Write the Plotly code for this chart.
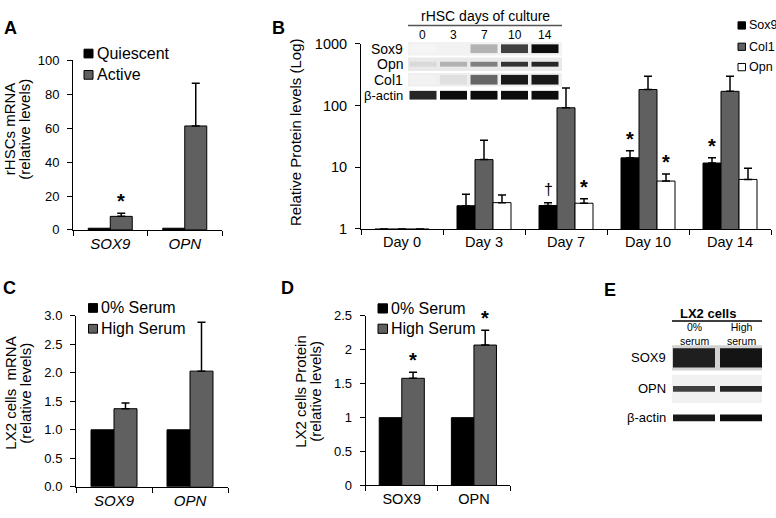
import math
import plotly.graph_objects as go

# ---------------- data ----------------
a_genes = ["SOX9", "OPN"]
a_series = ["Quiescent", "Active"]
a_quiescent = [1.0, 1.0]
a_active = [8.0, 61.3]
a_active_err = [1.9, 25.2]
a_active_sig = ["*", ""]

b_days = ["Day 0", "Day 3", "Day 7", "Day 10", "Day 14"]
b_series = ["Sox9", "Col1", "Opn"]
b_sox9 = [1.0, 2.38, 2.4, 14.2, 11.7]
b_sox9_err = [None, 1.27, 0.25, 4.4, 2.6]
b_sox9_sig = ["", "", "†", "*", "*"]
b_col1 = [1.0, 13.3, 92.0, 182.0, 170.0]
b_col1_err = [None, 14.1, 101.0, 116.0, 128.0]
b_col1_sig = ["", "", "", "", ""]
b_opn = [1.0, 2.67, 2.61, 5.97, 6.35]
b_opn_err = [None, 0.88, 0.47, 1.83, 3.25]
b_opn_sig = ["", "", "*", "*", ""]

b_blot_title = "rHSC days of culture"
b_blot_lanes = ["0", "3", "7", "10", "14"]
b_blot_rows = ["Sox9", "Opn", "Col1", "β-actin"]
b_blot_intensity = [
    [0.04, 0.05, 0.30, 0.75, 0.95],
    [0.15, 0.30, 0.50, 0.80, 0.85],
    [0.05, 0.12, 0.60, 0.90, 0.90],
    [0.85, 0.95, 0.95, 0.95, 0.95],
]

c_genes = ["SOX9", "OPN"]
c_series = ["0% Serum", "High Serum"]
c_zero = [1.0, 1.0]
c_high = [1.37, 2.03]
c_high_err = [0.10, 0.86]

d_genes = ["SOX9", "OPN"]
d_series = ["0% Serum", "High Serum"]
d_zero = [1.0, 1.0]
d_high = [1.58, 2.07]
d_high_err = [0.09, 0.22]
d_high_sig = ["*", "*"]

e_blot_title = "LX2 cells"
e_blot_lanes = ["0%<br>serum", "High<br>serum"]
e_blot_rows = ["SOX9", "OPN", "β-actin"]
e_blot_intensity = [
    [0.88, 0.92],
    [0.75, 0.85],
    [0.90, 0.95],
]

# ---------------- styling / geometry ----------------
W, H = 776, 518
FONT = "Arial, 'Liberation Sans', sans-serif"
BLACK, GRAY, WHITE = "#000000", "#606060", "#ffffff"


def fx(p):
    return p / W


def fy(p):
    return 1 - p / H


# plot boxes in pixels: x0, x1, ytop, ybottom
box = {
    "A": (73, 222, 54, 229),
    "B": (361, 771, 37, 228),
    "C": (76, 228, 317.7, 494),
    "D": (365.7, 510, 317.7, 492.7),
}

fig = go.Figure()


def add_bars(xa, ya, cats, vals, err, color, width, offset):
    ed = dict(visible=False)
    if err is not None:
        ed = dict(type="data", array=err, arrayminus=[0] * len(err), symmetric=False,
                  color=BLACK, thickness=1.5, width=4, visible=True)
    fig.add_trace(go.Bar(
        x=cats, y=vals, xaxis=xa, yaxis=ya, width=width, offset=offset,
        marker=dict(color=color, line=dict(color=BLACK, width=1)),
        error_y=ed, showlegend=False, hoverinfo="x+y"))


# Panel A
wA = 22 / 74.5
add_bars("x", "y", a_genes, a_quiescent, None, BLACK, wA, -wA)
add_bars("x", "y", a_genes, a_active, a_active_err, GRAY, wA, 0)
# Panel B
wB = 18 / 82
add_bars("x2", "y2", b_days, b_sox9, b_sox9_err, BLACK, wB, -1.5 * wB)
add_bars("x2", "y2", b_days, b_col1, b_col1_err, GRAY, wB, -0.5 * wB)
add_bars("x2", "y2", b_days, b_opn, b_opn_err, WHITE, wB, 0.5 * wB)
# Panel C
wC = 23 / 76
add_bars("x3", "y3", c_genes, c_zero, None, BLACK, wC, -wC)
add_bars("x3", "y3", c_genes, c_high, c_high_err, GRAY, wC, 0)
# Panel D
wD = 22.5 / 72
add_bars("x4", "y4", d_genes, d_zero, None, BLACK, wD, -wD)
add_bars("x4", "y4", d_genes, d_high, d_high_err, GRAY, wD, 0)


def xaxis(key, anchor, n, size, italic=False):
    x0, x1, yt, yb = box[key]
    return dict(domain=[fx(x0), fx(x1)], anchor=anchor, range=[-0.5, n - 0.5],
                showline=True, linecolor=BLACK, linewidth=1, ticks="outside",
                ticklen=5, tickcolor=BLACK, tickwidth=1, tickson="boundaries",
                showgrid=False, zeroline=False, fixedrange=True,
                tickfont=dict(size=size, color=BLACK, family=FONT,
                              style="italic" if italic else "normal"))


def yaxis(key, anchor, size, **kw):
    x0, x1, yt, yb = box[key]
    d = dict(domain=[fy(yb), fy(yt)], anchor=anchor, showline=True, linecolor=BLACK,
             linewidth=1, ticks="outside", ticklen=5, tickcolor=BLACK, tickwidth=1,
             showgrid=False, zeroline=False, fixedrange=True, ticklabelstandoff=5,
             tickfont=dict(size=size, color=BLACK, family=FONT))
    d.update(kw)
    return d


layout = dict(
    width=W, height=H, margin=dict(l=0, r=0, t=0, b=0),
    paper_bgcolor=WHITE, plot_bgcolor=WHITE, barmode="overlay",
    font=dict(family=FONT, color=BLACK), showlegend=False,
    xaxis=xaxis("A", "y", 2, 15, True),
    yaxis=yaxis("A", "x", 13, range=[0, 100], dtick=20, tick0=0),
    xaxis2=xaxis("B", "y2", 5, 14.5),
    yaxis2=yaxis("B", "x2", 14.5, type="log", range=[0, 3],
                 tickvals=[1, 10, 100, 1000], ticktext=["1", "10", "100", "1000"]),
    xaxis3=xaxis("C", "y3", 2, 15, True),
    yaxis3=yaxis("C", "x3", 13, range=[0, 3], dtick=0.5, tick0=0, tickformat=".1f"),
    xaxis4=xaxis("D", "y4", 2, 14.5),
    yaxis4=yaxis("D", "x4", 13, range=[0, 2.5], dtick=0.5, tick0=0),
)
fig.update_layout(**layout)

ann = []
shapes = []


def text(x, y, s, size, bold=False, anchor="center", angle=0, italic=False):
    ann.append(dict(x=fx(x), y=fy(y), xref="paper", yref="paper", text=s, showarrow=False,
                    xanchor=anchor, yanchor="middle", textangle=angle,
                    font=dict(size=size, family=FONT, color=BLACK,
                              weight="bold" if bold else "normal",
                              style="italic" if italic else "normal")))


# panel letters
for letter, (x, y) in {"A": (10, 21), "B": (278, 21), "C": (9, 289), "D": (287, 289), "E": (610, 291)}.items():
    text(x, y, letter, 18, bold=True)

# axis titles
text(9, 125, "rHSCs mRNA", 15, angle=-90)
text(24.5, 125, "(relative levels)", 15, angle=-90)
text(295, 128, "Relative Protein levels (Log)", 15, angle=-90)
text(11, 398, "LX2 cells  mRNA", 15, angle=-90)
text(26, 398, "(relative levels)", 15, angle=-90)
text(301, 396, "LX2 cells Protein", 15, angle=-90)
text(316, 396, "(relative levels)", 15, angle=-90)


# manual legends
def legend(x_sq, size_sq, ys, names, colors, fsize):
    for y, nm, col in zip(ys, names, colors):
        shapes.append(dict(type="rect", xref="paper", yref="paper",
                           x0=fx(x_sq), x1=fx(x_sq + size_sq),
                           y0=fy(y + size_sq / 2), y1=fy(y - size_sq / 2),
                           fillcolor=col, line=dict(color=BLACK, width=1)))
        text(x_sq + size_sq + 1.5, y, nm, fsize, anchor="left")


legend(84, 9, [47, 69], a_series, [BLACK, GRAY], 16)
legend(738, 7.5, [18, 40, 61], b_series, [BLACK, GRAY, WHITE], 12.5)
legend(88.5, 9, [309.5, 331], c_series, [BLACK, GRAY], 16)
legend(378, 9.5, [310, 331], d_series, [BLACK, GRAY], 16)


# significance marks
def marks(xr, yr, cats, tops, sigs, shift_px, log=False):
    for c, t, s in zip(cats, tops, sigs):
        if not s:
            continue
        yv = math.log10(t) if log else t
        ann.append(dict(x=c, y=yv, xref=xr, yref=yr, text=s, showarrow=False,
                        xanchor="center", yanchor="middle", xshift=shift_px,
                        yshift=12 if s == "*" else 13,
                        font=dict(size=20 if s == "*" else 16, family=FONT, color=BLACK,
                                  weight="bold" if s == "*" else "normal")))


catA = (box["A"][1] - box["A"][0]) / 2
marks("x", "y", a_genes, [v + e for v, e in zip(a_active, a_active_err)], a_active_sig, wA / 2 * catA)
catB = (box["B"][1] - box["B"][0]) / 5
marks("x2", "y2", b_days, [v + (e or 0) for v, e in zip(b_sox9, b_sox9_err)], b_sox9_sig, -wB * catB, log=True)
marks("x2", "y2", b_days, [v + (e or 0) for v, e in zip(b_opn, b_opn_err)], b_opn_sig, wB * catB, log=True)
catD = (box["D"][1] - box["D"][0]) / 2
marks("x4", "y4", d_genes, [v + e for v, e in zip(d_high, d_high_err)], d_high_sig, wD / 2 * catD)


def gray(i):
    g = int(round(255 * (1 - i)))
    return f"rgb({g},{g},{g})"


def rect(x0, x1, y0, y1, color):
    shapes.append(dict(type="rect", xref="paper", yref="paper", x0=fx(x0), x1=fx(x1),
                       y0=fy(y1), y1=fy(y0), fillcolor=color, line=dict(width=0), layer="above"))


# ---- Blot in panel B ----
bx0, bx1 = 408, 562
text((bx0 + bx1) / 2, 8, b_blot_title, 14)
shapes.append(dict(type="line", xref="paper", yref="paper", x0=fx(bx0), x1=fx(bx1),
                   y0=fy(18), y1=fy(18), line=dict(color="#555555", width=1.5)))
lane_c = [423 + i * 30.5 for i in range(len(b_blot_lanes))]
for xc, lab in zip(lane_c, b_blot_lanes):
    text(xc, 28, lab, 12)
row_y = [42, 58, 74, 90]
row_bg = ["#f2f2f2", "#e9e9e9", "#efefef", None]
band_h = [9, 5, 10, 9]
for r, (yc, lab, bg, bh) in enumerate(zip(row_y, b_blot_rows, row_bg, band_h)):
    if bg:
        rect(bx0, bx1, yc - 7, yc + 7, bg)
    for xc, inten in zip(lane_c, b_blot_intensity[r]):
        rect(xc - 13.5, xc + 13.5, yc - bh / 2, yc + bh / 2, gray(inten))
    text(405, yc, lab, 14 if r < 3 else 13, anchor="right")

# ---- Blot in panel E ----
ex0, ex1 = 672, 762
text(708, 315, e_blot_title, 13, bold=True)
shapes.append(dict(type="line", xref="paper", yref="paper", x0=fx(ex0), x1=fx(ex1),
                   y0=fy(323), y1=fy(323), line=dict(color=BLACK, width=1.5)))
e_lane_c = [694, 741]
for xc, lab in zip(e_lane_c, e_blot_lanes):
    text(xc, 336.5, lab, 10.5)
e_row_y = [361, 393, 423]
e_row_bg = ["#d2d2d2", "#f1f1f1", None]
e_row_half = [13, 14.5, 0]
e_band_h = [20, 6, 7]
for r, (yc, lab, bg, hh, bh) in enumerate(zip(e_row_y, e_blot_rows, e_row_bg, e_row_half, e_band_h)):
    if bg:
        rect(ex0, ex1, yc - hh, yc + hh, bg)
    for xc, inten in zip(e_lane_c, e_blot_intensity[r]):
        rect(xc - 21, xc + 21, yc - bh / 2, yc + bh / 2, gray(inten))
    text(668, yc, lab, 13, anchor="right")

fig.update_layout(annotations=ann, shapes=shapes)
post = ("document.body.style.margin='0';document.body.style.padding='0';"
        "document.body.style.overflow='hidden';"
        "var gd=document.getElementById('{plot_id}');"
        "gd.style.position='absolute';gd.style.left='0px';gd.style.top='0px';")
fig.write_html("out.html", post_script=post, config={"displayModeBar": False})
